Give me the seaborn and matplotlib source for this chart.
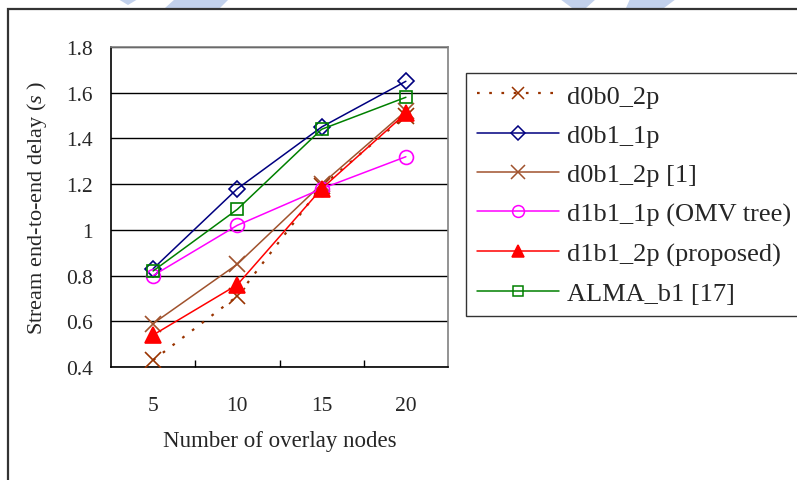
import matplotlib
matplotlib.use("Agg")
import matplotlib.pyplot as plt
from matplotlib.lines import Line2D
from matplotlib.patches import Polygon, Rectangle
import seaborn as sns

# Number of overlay nodes on the horizontal axis
nodes = [5, 10, 15, 20]

# Stream end-to-end delay (s) for each scheme
d0b0_2p = [0.43, 0.71, 1.19, 1.50]
d0b1_1p = [0.83, 1.18, 1.45, 1.65]
d0b1_2p = [0.59, 0.85, 1.20, 1.52]
d1b1_1p = [0.80, 1.02, 1.18, 1.32]
d1b1_2p = [0.54, 0.76, 1.18, 1.51]
alma_b1 = [0.82, 1.09, 1.44, 1.58]

labels = ["d0b0_2p", "d0b1_1p", "d0b1_2p [1]", "d1b1_1p (OMV tree)",
          "d1b1_2p (proposed)", "ALMA_b1 [17]"]
y_ticks = [0.4, 0.6, 0.8, 1.0, 1.2, 1.4, 1.6, 1.8]
y_tick_labels = ["0.4", "0.6", "0.8", "1", "1.2", "1.4", "1.6", "1.8"]

sns.set_style("white")
plt.rcParams["font.family"] = ["Liberation Serif", "DejaVu Serif"]
plt.rcParams["mathtext.fontset"] = "custom"
plt.rcParams["mathtext.rm"] = "Liberation Serif"
plt.rcParams["mathtext.it"] = "Liberation Serif:italic"

W, H = 797, 481
fig = plt.figure(figsize=(W / 100, H / 100), dpi=100)
fig.patch.set_facecolor("white")


def fx(px):
    return px / W


def fy(py):
    return 1 - py / H


# faint watermark pieces above the frame
wm_color = "#c2d1ec"
for pts in (
    [(118, 0), (138, 0), (128, 6)],
    [(175, 0), (229, 0), (220, 9), (165, 9)],
    [(560, 0), (596, 0), (586, 9), (572, 9)],
    [(630, 0), (676, 0), (664, 9), (626, 9)],
):
    fig.patches.append(Polygon([(fx(a), fy(b)) for a, b in pts], closed=True,
                               transform=fig.transFigure, facecolor=wm_color,
                               edgecolor="none", zorder=0))

# outer chart frame (runs past the right and bottom edges)
fig.patches.append(Rectangle((fx(8), fy(520)), fx(820) - fx(8), fy(10) - fy(520),
                             transform=fig.transFigure, facecolor="none",
                             edgecolor="#333333", linewidth=1.6, zorder=1))

left, top, right, bottom = 111, 48, 448, 368
ax = fig.add_axes([fx(left), fy(bottom), fx(right) - fx(left), fy(top) - fy(bottom)])
ax.set_facecolor("white")

series = [
    dict(y=d0b0_2p, color="#993300", marker="x", ms=11, mfc="#993300",
         ls=(0, (1.2, 4.3)), lw=1.6),
    dict(y=d0b1_1p, color="#000080", marker="D", ms=8, mfc="none", ls="-", lw=1.1),
    dict(y=d0b1_2p, color="#A0522D", marker="x", ms=12, mfc="#A0522D", ls="-", lw=1.1),
    dict(y=d1b1_1p, color="#FF00FF", marker="o", ms=10, mfc="none", ls="-", lw=1.1),
    dict(y=d1b1_2p, color="#FF0000", marker="^", ms=11, mfc="#FF0000", ls="-", lw=1.1),
    dict(y=alma_b1, color="#008000", marker="s", ms=8, mfc="none", ls="-", lw=1.1),
]

handles = []
for s, lab in zip(series, labels):
    sns.lineplot(x=nodes, y=s["y"], ax=ax, color=s["color"], marker=s["marker"],
                 markersize=s["ms"], markerfacecolor=s["mfc"],
                 markeredgecolor=s["color"], markeredgewidth=1.2,
                 linestyle=s["ls"], linewidth=s["lw"], legend=False, zorder=3)
    handles.append(Line2D([], [], color=s["color"], marker=s["marker"],
                          markersize=s["ms"] * 0.85, markerfacecolor=s["mfc"],
                          markeredgecolor=s["color"], markeredgewidth=1.1,
                          linestyle=s["ls"], linewidth=s["lw"]))

ax.set_xlim(2.5, 22.5)
ax.set_ylim(0.4, 1.8)
ax.set_yticks(y_ticks)
ax.set_yticklabels(y_tick_labels)
ax.set_xticks(nodes)
ax.set_xticklabels([str(n) for n in nodes])
ax.set_xticks([7.5, 12.5, 17.5], minor=True)
ax.tick_params(axis="x", which="major", length=0, pad=21, labelsize=15.5)
ax.tick_params(axis="x", which="minor", length=5, width=1, direction="in",
               color="black", bottom=True)
ax.tick_params(axis="y", which="major", length=0, pad=13, labelsize=15.5)
ax.yaxis.grid(True, color="black", linewidth=1.0)
ax.xaxis.grid(False)
ax.set_axisbelow(True)

for side in ("left", "bottom"):
    ax.spines[side].set_color("black")
    ax.spines[side].set_linewidth(1.2)
for side in ("top", "right"):
    ax.spines[side].set_color("#808080")
    ax.spines[side].set_linewidth(1.2)

ax.set_xlabel("Number of overlay nodes", fontsize=16.5, va="top")
ax.xaxis.set_label_coords(0.5, -(431 - bottom) / (bottom - top))
ax.set_ylabel("Stream end-to-end delay ($\\it{s}$ )", fontsize=16, va="center")
ax.yaxis.set_label_coords((37 - left) / (right - left), 0.5)

leg = fig.legend(handles, labels, loc="upper left",
                 bbox_to_anchor=(fx(466), fy(310), fx(812) - fx(466), fy(74) - fy(310)),
                 mode="expand", fontsize=19, frameon=True, fancybox=False,
                 shadow=False, framealpha=1, edgecolor="#333333",
                 handlelength=3.1, handletextpad=0.3, labelspacing=0.6,
                 borderpad=0.42, borderaxespad=0)
leg.get_frame().set_linewidth(1.0)

fig.savefig("out.png", dpi=100, facecolor="white")
